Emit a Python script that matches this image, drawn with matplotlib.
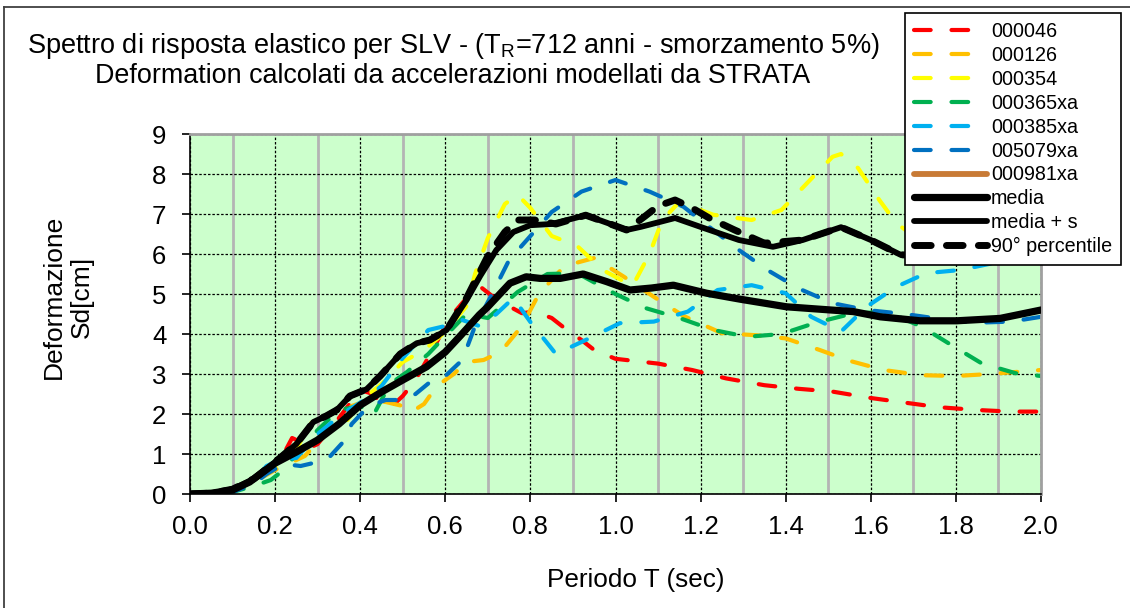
import matplotlib
matplotlib.use("Agg")
import matplotlib.pyplot as plt
from matplotlib.lines import Line2D
from matplotlib.ticker import FixedLocator

plt.rcParams["font.family"] = ["Liberation Sans", "DejaVu Sans"]
plt.rcParams["mathtext.fontset"] = "custom"
plt.rcParams["mathtext.rm"] = "Liberation Sans"
plt.rcParams["mathtext.it"] = "Liberation Sans:italic"

# ---- spectra: period T [s] and displacement Sd [cm] ----
T_046 = [0, 0.05, 0.1, 0.15, 0.2, 0.22, 0.24, 0.26, 0.28, 0.3, 0.35, 0.4, 0.43, 0.45, 0.48, 0.5,
         0.53, 0.57, 0.61, 0.65, 0.68, 0.71, 0.74, 0.78, 0.81, 0.85, 0.88, 0.92, 0.95, 1.0, 1.1,
         1.18, 1.26, 1.35, 1.43, 1.51, 1.6, 1.69, 1.76, 1.85, 1.93, 2.0]
S_046 = [0, 0.02, 0.1, 0.3, 0.7, 1.0, 1.4, 1.3, 1.15, 1.25, 1.9, 2.6, 2.5, 2.25, 2.25, 2.45,
         2.85, 3.6, 4.4, 4.9, 5.2, 4.95, 4.75, 4.52, 4.56, 4.4, 4.15, 3.85, 3.6, 3.38, 3.26,
         3.1, 2.89, 2.72, 2.63, 2.56, 2.4, 2.27, 2.17, 2.1, 2.06, 2.06]

T_126 = [0, 0.05, 0.1, 0.15, 0.2, 0.24, 0.27, 0.3, 0.35, 0.38, 0.42, 0.46, 0.5, 0.52, 0.55, 0.58,
         0.62, 0.65, 0.69, 0.73, 0.78, 0.82, 0.88, 0.95, 1.02, 1.09, 1.16, 1.25, 1.33, 1.4, 1.48,
         1.55, 1.63, 1.72, 1.8, 1.88, 2.0]
S_126 = [0, 0.02, 0.1, 0.3, 0.6, 0.8, 0.95, 1.3, 1.8, 2.2, 2.35, 2.3, 2.2, 2.05, 2.25, 2.7,
         3.0, 3.3, 3.35, 3.55, 4.2, 5.0, 5.7, 5.9, 5.43, 4.93, 4.45, 4.02, 3.97, 3.89, 3.6,
         3.33, 3.1, 2.97, 2.95, 3.0, 3.1]

T_354 = [0, 0.05, 0.1, 0.15, 0.2, 0.25, 0.28, 0.32, 0.37, 0.41, 0.45, 0.5, 0.55, 0.6, 0.65, 0.67,
         0.7, 0.74, 0.77, 0.8, 0.85, 0.91, 0.97, 1.04, 1.08, 1.11, 1.15, 1.23, 1.32, 1.39, 1.45,
         1.51, 1.53, 1.57, 1.62, 1.66, 1.72, 1.8, 1.9, 2.0]
S_354 = [0, 0.02, 0.1, 0.3, 0.65, 1.1, 1.75, 1.95, 1.85, 2.4, 2.75, 3.3, 3.6, 4.05, 4.7, 5.5,
         6.4, 7.25, 7.48, 7.15, 6.45, 6.2, 5.6, 5.2, 6.0, 6.85, 7.3, 6.98, 6.85, 7.1, 7.77,
         8.43, 8.5, 8.15, 7.35, 6.77, 6.3, 6.1, 6.2, 6.3]

T_365 = [0, 0.05, 0.1, 0.15, 0.19, 0.22, 0.25, 0.3, 0.35, 0.4, 0.43, 0.47, 0.51, 0.56, 0.6, 0.65,
         0.7, 0.77, 0.84, 0.91, 1.0, 1.07, 1.15, 1.23, 1.31, 1.39, 1.47, 1.56, 1.64, 1.72, 1.79,
         1.86, 1.94, 2.0]
S_365 = [0, 0.02, 0.05, 0.2, 0.35, 0.6, 1.0, 1.6, 2.1, 2.2, 1.95, 2.75, 3.05, 3.5, 3.95, 4.5,
         4.4, 5.05, 5.5, 5.52, 5.0, 4.65, 4.4, 4.1, 3.93, 4.0, 4.28, 4.52, 4.55, 4.18, 3.72,
         3.27, 3.02, 2.95]

T_385 = [0, 0.05, 0.1, 0.15, 0.18, 0.21, 0.25, 0.3, 0.36, 0.41, 0.45, 0.5, 0.56, 0.6, 0.64, 0.68,
         0.72, 0.76, 0.8, 0.86, 0.93, 1.01, 1.09, 1.17, 1.24, 1.32, 1.4, 1.46, 1.53, 1.59, 1.66,
         1.73, 1.81, 1.9, 2.0]
S_385 = [0, 0.02, 0.08, 0.35, 0.7, 0.85, 0.9, 1.5, 2.02, 2.35, 2.7, 3.4, 4.1, 4.2, 4.35, 4.2,
         4.5, 4.9, 4.3, 3.5, 3.85, 4.27, 4.31, 4.56, 5.1, 5.22, 5.02, 4.43, 4.06, 4.68, 5.18,
         5.52, 5.6, 5.8, 5.95]

T_5079 = [0, 0.05, 0.1, 0.15, 0.18, 0.22, 0.26, 0.3, 0.33, 0.36, 0.38, 0.42, 0.46, 0.5, 0.53,
          0.57, 0.6, 0.64, 0.67, 0.71, 0.75, 0.8, 0.85, 0.92, 1.0, 1.08, 1.16, 1.22, 1.29, 1.36,
          1.43, 1.51, 1.59, 1.68, 1.76, 1.84, 1.93, 2.0]
S_5079 = [0, 0.02, 0.05, 0.25, 0.5, 0.75, 0.7, 0.8, 0.95, 1.3, 1.75, 2.2, 2.35, 2.35, 2.5,
          2.85, 2.95, 3.35, 4.2, 5.0, 5.85, 6.45, 7.05, 7.56, 7.85, 7.56, 7.18, 6.68, 6.1, 5.58,
          5.14, 4.77, 4.6, 4.5, 4.38, 4.28, 4.31, 4.43]

T_981 = []
S_981 = []

T_media = [0, 0.05, 0.1, 0.14, 0.2, 0.25, 0.3, 0.35, 0.4, 0.45, 0.5, 0.556, 0.6, 0.635, 0.68,
           0.7, 0.752, 0.79, 0.823, 0.87, 0.924, 0.979, 1.034, 1.085, 1.136, 1.214, 1.293, 1.402,
           1.48, 1.559, 1.622, 1.716, 1.802, 1.904, 2.0]
S_media = [0, 0.02, 0.1, 0.3, 0.77, 1.05, 1.35, 1.75, 2.22, 2.55, 2.85, 3.18, 3.55, 3.95, 4.48,
           4.68, 5.27, 5.43, 5.39, 5.39, 5.5, 5.31, 5.1, 5.15, 5.22, 5.02, 4.87, 4.68,
           4.62, 4.56, 4.43, 4.33, 4.33, 4.39, 4.6]

T_ms = [0, 0.05, 0.1, 0.15, 0.2, 0.25, 0.29, 0.32, 0.345, 0.376, 0.415, 0.447, 0.494, 0.533,
        0.564, 0.603, 0.65, 0.682, 0.72, 0.76, 0.8, 0.85, 0.93, 0.98, 1.026, 1.06, 1.14, 1.21,
        1.29, 1.37, 1.44, 1.53, 1.6, 1.67, 1.75, 1.85, 1.95, 2.0]
S_ms = [0, 0.02, 0.12, 0.38, 0.8, 1.25, 1.8, 1.95, 2.1, 2.45, 2.62, 2.95, 3.5, 3.77,
        3.85, 4.1, 4.85, 5.45, 6.1, 6.55, 6.72, 6.75, 6.97, 6.78, 6.6, 6.68, 6.9, 6.64,
        6.35, 6.18, 6.35, 6.67, 6.35, 5.98, 5.95, 6.0, 6.1, 6.2]

T_p90 = [0, 0.05, 0.1, 0.15, 0.2, 0.25, 0.29, 0.32, 0.345, 0.376, 0.415, 0.447, 0.494, 0.533,
         0.564, 0.603, 0.65, 0.7, 0.74, 0.77, 0.81, 0.86, 0.93, 0.98, 1.026, 1.07, 1.1, 1.14,
         1.18, 1.22, 1.28, 1.35, 1.44, 1.53, 1.6, 1.67, 1.75, 1.85, 1.95, 2.0]
S_p90 = [0, 0.02, 0.12, 0.38, 0.8, 1.25, 1.8, 1.95, 2.1, 2.45, 2.62, 2.95, 3.5, 3.77,
         3.85, 4.1, 4.9, 5.95, 6.55, 6.85, 6.85, 6.75, 6.97, 6.78, 6.6, 6.95, 7.2, 7.35,
         7.15, 6.9, 6.6, 6.27, 6.35, 6.67, 6.35, 5.98, 5.95, 6.0, 6.1, 6.2]

records = ["000046", "000126", "000354", "000365xa", "000385xa", "005079xa", "000981xa"]
record_T = [T_046, T_126, T_354, T_365, T_385, T_5079, T_981]
record_S = [S_046, S_126, S_354, S_365, S_385, S_5079, S_981]
record_colors = ["#FF0000", "#FFC000", "#FFFF00", "#00B050", "#00B0F0", "#0070C0", "#C87A35"]

x_ticks = [0.0, 0.2, 0.4, 0.6, 0.8, 1.0, 1.2, 1.4, 1.6, 1.8, 2.0]
y_ticks = [0, 1, 2, 3, 4, 5, 6, 7, 8, 9]

W, H = 1130, 608
fig = plt.figure(figsize=(W / 100, H / 100), dpi=100)
ax = fig.add_axes([190 / W, 114 / H, 851 / W, 360 / H])
ax.set_facecolor("#CCFFCC")
ax.set_xlim(0, 2.0)
ax.set_ylim(0, 9)

# grid: gray solid at odd tenths, black dashed at the labelled ticks
ax.xaxis.set_major_locator(FixedLocator(x_ticks))
ax.xaxis.set_minor_locator(FixedLocator([0.1, 0.3, 0.5, 0.7, 0.9, 1.1, 1.3, 1.5, 1.7, 1.9]))
ax.yaxis.set_major_locator(FixedLocator(y_ticks))
ax.grid(which="minor", axis="x", color="#B4B4B4", linestyle="-", linewidth=2.0, zorder=0)
ax.grid(which="major", axis="both", color="black", linestyle=(0, (2, 1.5)), linewidth=0.9, zorder=0)
ax.set_axisbelow(True)
ax.tick_params(which="minor", length=0)
ax.tick_params(which="major", direction="out", length=6, width=1.2, colors="black",
               labelsize=18.5)
ax.tick_params(axis="x", pad=9)
ax.tick_params(axis="y", pad=11)
ax.set_xticklabels([f"{v:.1f}" for v in x_ticks])
ax.set_yticklabels([str(v) for v in y_ticks])

for side in ("left", "bottom"):
    ax.spines[side].set_color("black")
    ax.spines[side].set_linewidth(1.2)
for side in ("top", "right"):
    ax.spines[side].set_color("#A0A0A0")
    ax.spines[side].set_linewidth(2.0)

handles = []
for name, t, s, c in zip(records, record_T, record_S, record_colors):
    if name == "000981xa":
        ln, = ax.plot(t, s, color=c, linewidth=4.2, solid_capstyle="round", label=name)
    else:
        ln, = ax.plot(t, s, color=c, linewidth=3.0, linestyle="--", dashes=(4, 5),
                      dash_capstyle="round", label=name, zorder=2)
    handles.append(ln)

ln_m, = ax.plot(T_media, S_media, color="black", linewidth=5.2, solid_capstyle="round",
                label="media", zorder=3)
ln_s, = ax.plot(T_ms, S_ms, color="black", linewidth=4.2, solid_capstyle="round",
                label="media + s", zorder=3)
ln_p, = ax.plot(T_p90, S_p90, color="black", linewidth=5.0, linestyle="--", dashes=(2.4, 2.2),
                dash_capstyle="round", label="90° percentile", zorder=3)
handles += [ln_m, ln_s, ln_p]

leg = ax.legend(handles=handles, labels=[h.get_label() for h in handles],
                loc="upper left", bbox_to_anchor=(905 / W, 1 - 13 / H),
                bbox_transform=fig.transFigure, borderaxespad=0,
                fontsize=14.2, frameon=True, fancybox=False, framealpha=1,
                edgecolor="black", facecolor="white", handlelength=3.7,
                handletextpad=0.2, labelspacing=0.25, borderpad=0.45)
leg.get_frame().set_linewidth(1.2)
leg.set_zorder(10)

fig.text(453 / W, 1 - 53 / H,
         r"Spettro di risposta elastico per SLV - (T$_\mathregular{R}$=712 anni - smorzamento 5%)",
         ha="center", va="baseline", fontsize=19.5)
fig.text(453 / W, 1 - 83 / H, "Deformation calcolati da accelerazioni modellati da STRATA",
         ha="center", va="baseline", fontsize=19.4)
fig.text(68 / W, 1 - 297 / H, "Deformazione\nSd[cm]", rotation=90, ha="center", va="center",
         fontsize=19, linespacing=1.2)
fig.text(636 / W, 1 - 580 / H, "Periodo T (sec)", ha="center", va="center", fontsize=18.8)

# chart border
fig.add_artist(Line2D([4 / W, 4 / W], [0, 1 - 7 / H], color="#404040", linewidth=1.3))
fig.add_artist(Line2D([4 / W, 1], [1 - 7 / H, 1 - 7 / H], color="#404040", linewidth=1.3))

fig.savefig("out.png", dpi=100)
